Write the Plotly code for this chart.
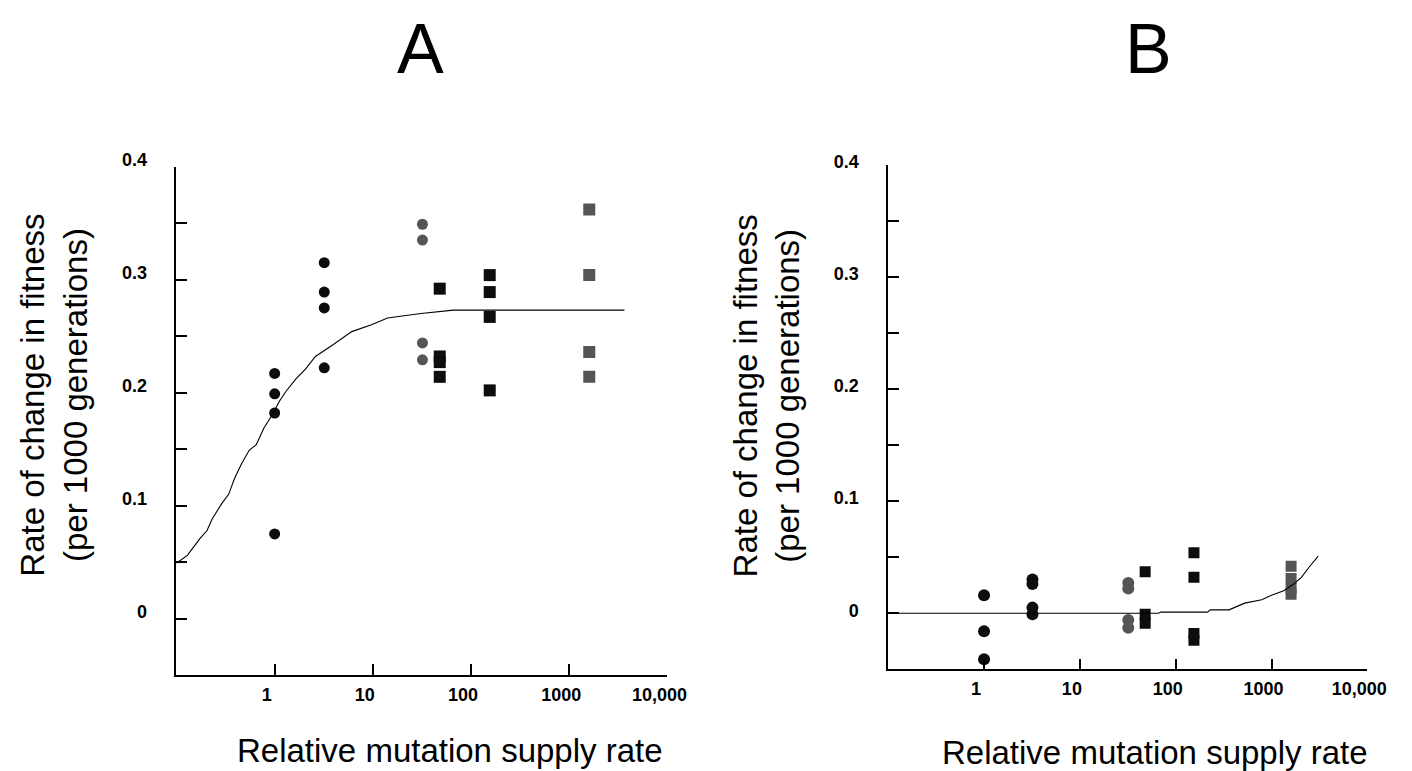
import plotly.graph_objects as go

W, H = 1412, 771

# ---------------- Panel A data ----------------
a_x_c1 = [1, 1, 1, 1]
a_y_c1 = [0.217, 0.199, 0.182, 0.075]
a_x_c2 = [3.2, 3.2, 3.2, 3.2]
a_y_c2 = [0.315, 0.289, 0.275, 0.222]
a_x_c3 = [32, 32, 32, 32]
a_y_c3 = [0.349, 0.335, 0.244, 0.229]
a_x_s1 = [48, 48, 48, 48]
a_y_s1 = [0.292, 0.232, 0.227, 0.214]
a_x_s2 = [155, 155, 155, 155]
a_y_s2 = [0.304, 0.289, 0.267, 0.202]
a_x_s3 = [1600, 1600, 1600, 1600]
a_y_s3 = [0.362, 0.304, 0.236, 0.214]
a_curve_x = [0.1, 0.129, 0.174, 0.205, 0.23, 0.29, 0.34, 0.39, 0.46, 0.55, 0.65, 0.78,
             0.94, 1.11, 1.30, 1.64, 2.07, 2.6, 3.86, 6.1, 9.7, 14.1, 20.8, 31, 66, 3650]
a_curve_y = [0.049, 0.056, 0.071, 0.078, 0.088, 0.102, 0.110, 0.124, 0.137, 0.149, 0.154, 0.169,
             0.180, 0.192, 0.201, 0.212, 0.221, 0.232, 0.242, 0.254, 0.260, 0.266, 0.268, 0.270, 0.273, 0.273]

# ---------------- Panel B data ----------------
b_x_c1 = [1, 1, 1]
b_y_c1 = [0.016, -0.016, -0.041]
b_x_c2 = [3.2, 3.2, 3.2, 3.2]
b_y_c2 = [0.030, 0.026, 0.005, -0.001]
b_x_c3 = [32, 32, 32, 32]
b_y_c3 = [0.027, 0.022, -0.006, -0.013]
b_x_s1 = [48, 48, 48]
b_y_s1 = [0.037, -0.001, -0.009]
b_x_s2 = [155, 155, 155, 155]
b_y_s2 = [0.054, 0.032, -0.018, -0.024]
b_x_s3 = [1600, 1600, 1600, 1600]
b_y_s3 = [0.042, 0.031, 0.022, 0.017]
b_curve_x = [0.1, 66, 70, 215, 230, 360, 525, 790, 1000, 1340, 1700, 2050, 2460, 3070]
b_curve_y = [0.0, 0.0, 0.001, 0.001, 0.003, 0.003, 0.009, 0.012, 0.016, 0.020, 0.026, 0.032, 0.041, 0.051]

x_tickvals = [1, 10, 100, 1000, 10000]
x_ticktext = ["1", "10", "100", "1000", "10,000"]
y_tickvals = [0, 0.05, 0.1, 0.15, 0.2, 0.25, 0.3, 0.35, 0.4]
y_ticktext = ["0", "", "0.1", "", "0.2", "", "0.3", "", "0.4"]

BLACK = "#0d0d0d"
GRAY = "#555555"

fig = go.Figure()


def add_panel(xa, ya, groups, cx, cy, csize, ssize):
    for xs, ys, sym, col in groups:
        size = csize if sym == "circle" else ssize
        fig.add_trace(go.Scatter(x=xs, y=ys, mode="markers", xaxis=xa, yaxis=ya,
                                 marker=dict(symbol=sym, size=size, color=col, line=dict(width=0)),
                                 showlegend=False, hoverinfo="skip"))
    fig.add_trace(go.Scatter(x=cx, y=cy, mode="lines", xaxis=xa, yaxis=ya,
                             line=dict(color="black", width=1.1), showlegend=False, hoverinfo="skip"))


add_panel("x", "y", [
    (a_x_c1, a_y_c1, "circle", BLACK),
    (a_x_c2, a_y_c2, "circle", BLACK),
    (a_x_c3, a_y_c3, "circle", GRAY),
    (a_x_s1, a_y_s1, "square", BLACK),
    (a_x_s2, a_y_s2, "square", BLACK),
    (a_x_s3, a_y_s3, "square", GRAY),
], a_curve_x, a_curve_y, 11, 12)

add_panel("x2", "y2", [
    (b_x_c1, b_y_c1, "circle", BLACK),
    (b_x_c2, b_y_c2, "circle", BLACK),
    (b_x_c3, b_y_c3, "circle", GRAY),
    (b_x_s1, b_y_s1, "square", BLACK),
    (b_x_s2, b_y_s2, "square", BLACK),
    (b_x_s3, b_y_s3, "square", GRAY),
], b_curve_x, b_curve_y, 12, 11)

tickfont = dict(family="Liberation Sans", size=18, color="black", weight="bold")


def xaxis(domain, anchor):
    return dict(type="log", range=[-1, 4], domain=domain, anchor=anchor,
                tickvals=x_tickvals, ticktext=x_ticktext, ticks="inside", ticklen=11,
                tickwidth=1.5, tickcolor="black", showline=True, linecolor="black",
                linewidth=1.5, showgrid=False, zeroline=False, tickfont=tickfont,
                ticklabelshift=-8, ticklabelstandoff=2, fixedrange=True)


def yaxis(domain, anchor, shift):
    return dict(range=[-0.05, 0.4], domain=domain, anchor=anchor,
                tickvals=y_tickvals, ticktext=y_ticktext, ticks="inside", ticklen=11,
                tickwidth=1.5, tickcolor="black", showline=True, linecolor="black",
                linewidth=1.5, showgrid=False, zeroline=False, tickfont=tickfont,
                ticklabelshift=shift, ticklabelstandoff=24, fixedrange=True)


def px(x):
    return x / W


def py(y):
    return 1 - y / H


title_font = dict(family="Liberation Sans", size=33, color="black")
annotations = [
    dict(text="A", x=px(427), y=py(33), xref="paper", yref="paper", showarrow=False,
         font=dict(family="Liberation Sans", size=70, color="black"), xanchor="center", yanchor="middle"),
    dict(text="B", x=px(1165), y=py(33), xref="paper", yref="paper", showarrow=False,
         font=dict(family="Liberation Sans", size=70, color="black"), xanchor="center", yanchor="middle"),
    dict(text="Rate of change in fitness<br>(per 1000 generations)", x=px(55), y=py(387),
         xref="paper", yref="paper", showarrow=False, textangle=-90, font=title_font,
         xanchor="center", yanchor="middle"),
    dict(text="Rate of change in fitness<br>(per 1000 generations)", x=px(778), y=py(387),
         xref="paper", yref="paper", showarrow=False, textangle=-90, font=title_font,
         xanchor="center", yanchor="middle"),
    dict(text="Relative mutation supply rate", x=px(456), y=py(750), xref="paper", yref="paper",
         showarrow=False, font=title_font, xanchor="center", yanchor="middle"),
    dict(text="Relative mutation supply rate", x=px(1172), y=py(752), xref="paper", yref="paper",
         showarrow=False, font=title_font, xanchor="center", yanchor="middle"),
]

fig.update_layout(
    width=W, height=H,
    margin=dict(l=0, r=0, t=0, b=0),
    paper_bgcolor="white", plot_bgcolor="white",
    xaxis=xaxis([px(179), px(677)], "y"),
    yaxis=yaxis([py(673), py(153)], "x", -7),
    xaxis2=xaxis([px(901), px(1387)], "y2"),
    yaxis2=yaxis([py(667), py(151)], "x2", -3),
    annotations=annotations,
)

fig.write_html("out.html")
